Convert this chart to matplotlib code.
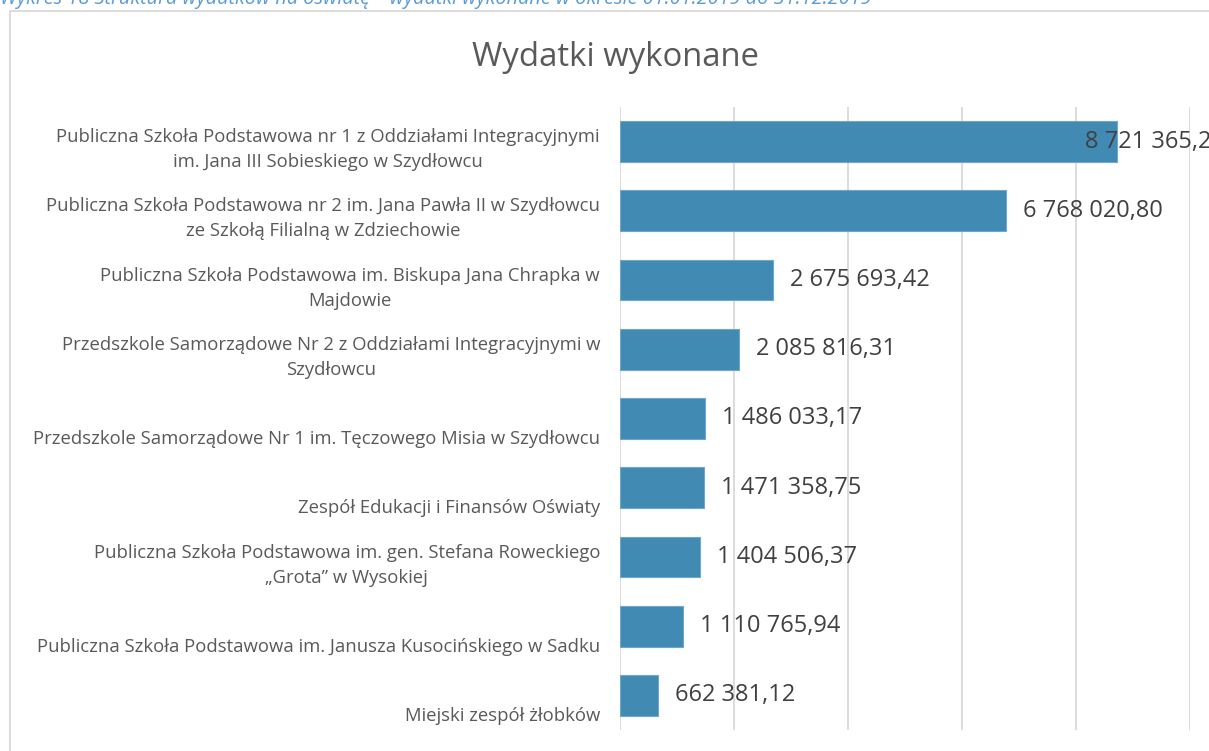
import matplotlib
matplotlib.use("Agg")
import matplotlib.pyplot as plt
import matplotlib.transforms as mtransforms
from matplotlib.patches import Rectangle

categories = [
    "Publiczna Szkoła Podstawowa nr 1 z Oddziałami Integracyjnymi\nim. Jana III Sobieskiego w Szydłowcu",
    "Publiczna Szkoła Podstawowa nr 2 im. Jana Pawła II w Szydłowcu\nze Szkołą Filialną w Zdziechowie",
    "Publiczna Szkoła Podstawowa im. Biskupa Jana Chrapka w\nMajdowie",
    "Przedszkole Samorządowe Nr 2 z Oddziałami Integracyjnymi w\nSzydłowcu",
    "Przedszkole Samorządowe Nr 1 im. Tęczowego Misia w Szydłowcu",
    "Zespół Edukacji i Finansów Oświaty",
    "Publiczna Szkoła Podstawowa im. gen. Stefana Roweckiego\n„Grota” w Wysokiej",
    "Publiczna Szkoła Podstawowa im. Janusza Kusocińskiego w Sadku",
    "Miejski zespół żłobków",
]
values = [8721365.28, 6768020.80, 2675693.42, 2085816.31, 1486033.17,
          1471358.75, 1404506.37, 1110765.94, 662381.12]
value_labels = ["8 721 365,28", "6 768 020,80", "2 675 693,42", "2 085 816,31",
                "1 486 033,17", "1 471 358,75", "1 404 506,37", "1 110 765,94",
                "662 381,12"]
title = "Wydatki wykonane"
caption = "Wykres 18 Struktura wydatków na oświatę – wydatki wykonane w okresie 01.01.2019 do 31.12.2019"

plt.rcParams['font.family'] = ['Open Sans', 'DejaVu Sans']

W, H = 1209, 751
fig = plt.figure(figsize=(W / 100, H / 100), dpi=100)
fig.patch.set_facecolor('white')

# chart frame (extends beyond the visible area on right and bottom)
fig.patches.append(Rectangle((9.5 / W, -0.05), 1.2, 1 - 10.5 / H + 0.05,
                             transform=fig.transFigure, fill=False,
                             edgecolor='#D9D9D9', linewidth=1.3, clip_on=False))

# caption (cut off at top, as in the source)
fig.text(0.0, 1 - 4 / H, caption, ha='left', va='baseline', fontsize=14.3,
         style='italic', color='#5B9BD5')

ax = fig.add_axes([620 / W, 1 - 730 / H, 570 / W, 623 / H])
y = list(range(len(values)))
ax.barh(y, values, height=0.59, color='#418AB3', edgecolor='#6FA6CB', linewidth=0.8, zorder=3)
ax.set_xlim(0, 10_000_000)
ax.set_ylim(len(values) - 0.5, -0.5)
ax.set_xticks(range(0, 10_000_001, 2_000_000))
ax.xaxis.grid(True, color='#D9D9D9', linewidth=1.3, zorder=0)
ax.tick_params(left=False, bottom=False, labelleft=False, labelbottom=False)
for s in ax.spines.values():
    s.set_visible(False)

# category labels: bottom-aligned in each slot
lab_tr = mtransforms.blended_transform_factory(ax.transAxes, ax.transData) + \
    mtransforms.ScaledTranslation(-20 / 100, 5 / 100, fig.dpi_scale_trans)
for i, c in enumerate(categories):
    ax.text(0, i + 0.5, c, transform=lab_tr, ha='right', va='bottom',
            multialignment='center', fontsize=13.3, color='#595959',
            linespacing=1.5)

# value labels
val_tr = ax.transData + mtransforms.ScaledTranslation(17 / 100, 0, fig.dpi_scale_trans)
max_left = 8_160_000 - 17 / 57 * 1_000_000
for i, (v, t) in enumerate(zip(values, value_labels)):
    ax.text(min(v, max_left), i, t, transform=val_tr, ha='left', va='center',
            fontsize=17, color='#404040', zorder=4, clip_on=False)

fig.text(615 / W, 1 - 57 / H, title, ha='center', va='center', fontsize=23.7,
         color='#595959')

fig.savefig('out.png', dpi=100)
